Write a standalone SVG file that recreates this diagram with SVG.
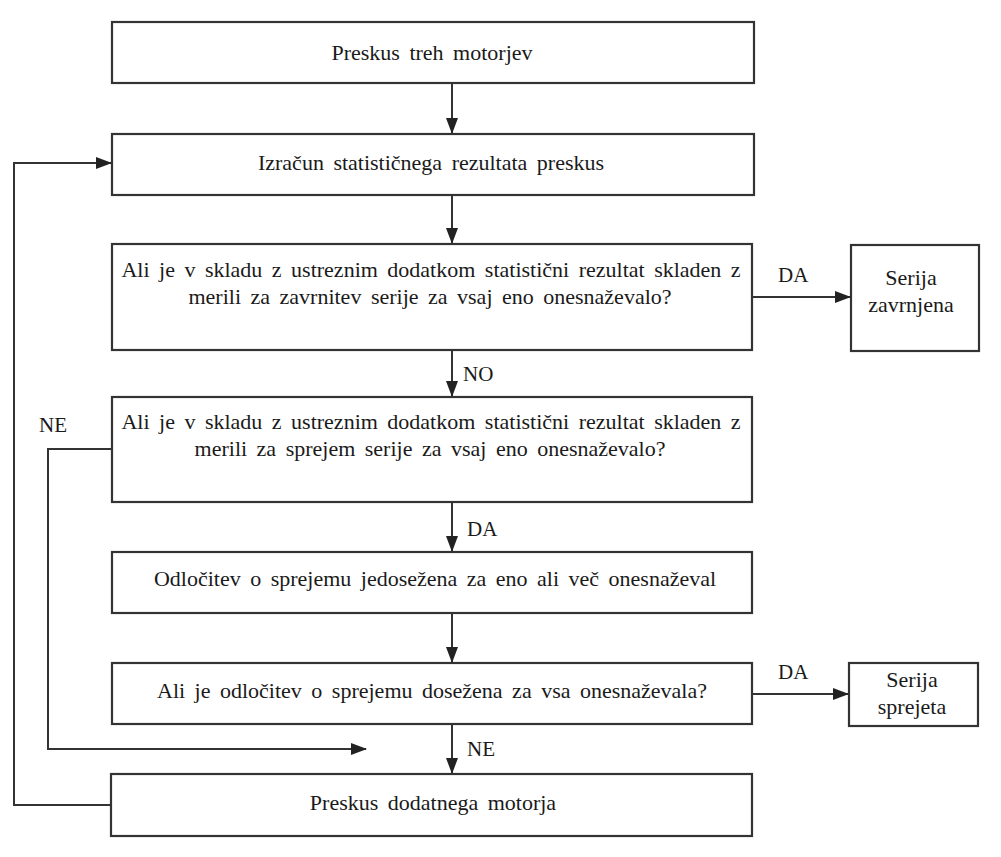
<svg xmlns="http://www.w3.org/2000/svg" width="1001" height="857" viewBox="0 0 1001 857">
<style>
.box{fill:#fff;stroke:#333;stroke-width:2.2}
.t{font-family:"Liberation Serif","Times New Roman",serif;font-size:22px;fill:#1a1a1a;text-anchor:middle;word-spacing:4px}
.l{font-family:"Liberation Serif","Times New Roman",serif;font-size:21px;fill:#1a1a1a}
.c{fill:none;stroke:#333;stroke-width:2}
</style>
<defs>
<marker id="ah" markerWidth="16" markerHeight="12" refX="15" refY="6" orient="auto" markerUnits="userSpaceOnUse">
<path d="M0,0 L16,6 L0,12 Z" fill="#222"/>
</marker>
</defs>
<rect width="1001" height="857" fill="#fff"/>
<g id="connectors">
<path class="c" d="M452,83 V133" marker-end="url(#ah)"/>
<path class="c" d="M452,195 V243" marker-end="url(#ah)"/>
<path class="c" d="M452,350 V396" marker-end="url(#ah)"/>
<path class="c" d="M452,502 V551" marker-end="url(#ah)"/>
<path class="c" d="M452,613 V662" marker-end="url(#ah)"/>
<path class="c" d="M452,724 V773" marker-end="url(#ah)"/>
<path class="c" d="M752,297 H850" marker-end="url(#ah)"/>
<path class="c" d="M752,694 H848" marker-end="url(#ah)"/>
<path class="c" d="M111,805 H14 V163 H111" marker-end="url(#ah)"/>
<path class="c" d="M112,449 H48 V749 H366" marker-end="url(#ah)"/>
<text class="l" x="463" y="381">NO</text>
<text class="l" x="467" y="536">DA</text>
<text class="l" x="467" y="756">NE</text>
<text class="l" x="39" y="432">NE</text>
<text class="l" x="778" y="282">DA</text>
<text class="l" x="778" y="679">DA</text>
</g>
<g id="n1"><rect class="box" x="112" y="22" width="642" height="61"/><text class="t" x="432" y="60">Preskus treh motorjev</text></g>
<g id="n2"><rect class="box" x="112" y="134" width="642" height="61"/><text class="t" x="431" y="170">Izračun statističnega rezultata preskus</text></g>
<g id="n3"><rect class="box" x="112" y="244" width="640" height="106"/><text class="t" x="431" y="277">Ali je v skladu z ustreznim dodatkom statistični rezultat skladen z</text><text class="t" x="430" y="304">merili za zavrnitev serije za vsaj eno onesnaževalo?</text></g>
<g id="n4"><rect class="box" x="112" y="397" width="640" height="105"/><text class="t" x="431" y="429">Ali je v skladu z ustreznim dodatkom statistični rezultat skladen z</text><text class="t" x="430" y="456">merili za sprejem serije za vsaj eno onesnaževalo?</text></g>
<g id="n5"><rect class="box" x="112" y="552" width="640" height="61"/><text class="t" x="435" y="586">Odločitev o sprejemu jedosežena za eno ali več onesnaževal</text></g>
<g id="n6"><rect class="box" x="112" y="663" width="640" height="61"/><text class="t" x="432" y="698">Ali je odločitev o sprejemu dosežena za vsa onesnaževala?</text></g>
<g id="n7"><rect class="box" x="111" y="774" width="641" height="62"/><text class="t" x="433" y="810">Preskus dodatnega motorja</text></g>
<g id="n8"><rect class="box" x="851" y="245" width="128" height="106"/><text class="t" x="911" y="285">Serija</text><text class="t" x="911" y="312">zavrnjena</text></g>
<g id="n9"><rect class="box" x="849" y="663" width="129" height="63"/><text class="t" x="912" y="687">Serija</text><text class="t" x="912" y="714">sprejeta</text></g>
</svg>
